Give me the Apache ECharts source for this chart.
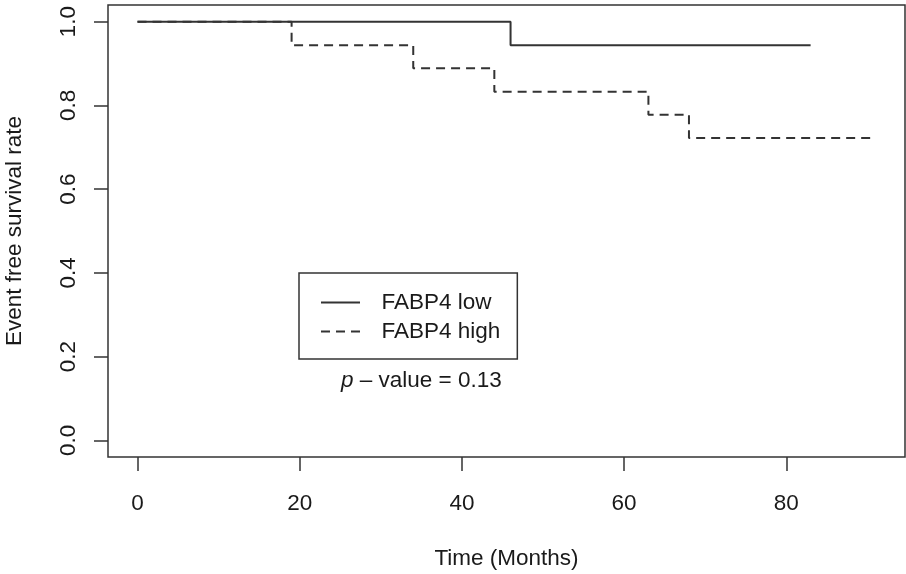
<!DOCTYPE html>
<html>
<head>
<meta charset="utf-8">
<script src="https://cdn.jsdelivr.net/npm/echarts@6/dist/echarts.min.js"></script>
<style>
  html, body { margin: 0; padding: 0; background: #fff; }
  #chart { width: 906px; height: 574px; }
</style>
</head>
<body>
<div id="chart"></div>
<script>
// Kaplan-Meier event-free survival by FABP4 expression group
const lowTimes = [0, 46, 83];
const lowSurv = [1.0, 0.944, 0.944];
const highTimes = [0, 19, 34, 44, 63, 68, 91];
const highSurv = [1.0, 0.944, 0.889, 0.833, 0.778, 0.722, 0.722];

const seriesNames = ['FABP4 low', 'FABP4 high'];
const xTicks = [0, 20, 40, 60, 80];
const yTicks = [0, 0.2, 0.4, 0.6, 0.8, 1.0];
const xTitle = 'Time (Months)';
const yTitle = 'Event free survival rate';
const pValue = '0.13';

const FONT = '"Liberation Sans", Arial, Helvetica, sans-serif';
const FS = 22.5;
const INK = '#1a1a1a';
const LINE = '#333333';

// legend keys: a plain stroke and a three-dash stroke
const SOLID_KEY = 'path://M0,0h39v2h-39z';
const DASH_KEY = 'path://M0,0h9v2h-9zM15,0h9v2h-9zM30,0h9v2h-9z';

function pairs(xs, ys) { return xs.map((x, i) => [x, ys[i]]); }

const chart = echarts.init(document.getElementById('chart'), null, { renderer: 'canvas' });

chart.setOption({
  animation: false,
  backgroundColor: '#ffffff',
  textStyle: { fontFamily: FONT },
  grid: {
    left: 108, right: 1, top: 5, bottom: 117,
    outerBoundsMode: 'none',
    containLabel: false,
    show: true, borderColor: LINE, borderWidth: 1.5, backgroundColor: 'transparent'
  },
  xAxis: {
    type: 'value',
    min: -3.64, max: 94.64,
    name: xTitle,
    nameLocation: 'middle',
    nameGap: 90,
    nameTextStyle: { fontSize: FS, color: INK, fontFamily: FONT },
    axisLine: { show: false, onZero: false },
    splitLine: { show: false },
    axisTick: { show: true, inside: false, length: 14, customValues: xTicks, lineStyle: { color: LINE, width: 1.5 } },
    axisLabel: { customValues: xTicks, margin: 35, fontSize: FS, color: INK, fontFamily: FONT }
  },
  yAxis: {
    type: 'value',
    min: -0.04, max: 1.04,
    name: yTitle,
    nameLocation: 'middle',
    nameRotate: 90,
    nameGap: 82,
    nameTextStyle: { fontSize: FS, color: INK, fontFamily: FONT },
    axisLine: { show: false, onZero: false },
    splitLine: { show: false },
    axisTick: { show: true, inside: false, length: 14, customValues: yTicks, lineStyle: { color: LINE, width: 1.5 } },
    axisLabel: {
      customValues: yTicks, rotate: 90, margin: 28, fontSize: FS, color: INK, fontFamily: FONT,
      formatter: v => v.toFixed(1)
    }
  },
  legend: {
    orient: 'vertical',
    left: 299, top: 273,
    padding: [17, 17, 15, 22],
    borderColor: LINE, borderWidth: 1.5,
    itemWidth: 42, itemHeight: 2, itemGap: 4,
    data: [
      { name: seriesNames[0], icon: SOLID_KEY },
      { name: seriesNames[1], icon: DASH_KEY }
    ],
    textStyle: { fontSize: FS, color: INK, fontFamily: FONT, lineHeight: 25, padding: [0, 0, 0, 15] }
  },
  graphic: [{
    type: 'text',
    left: 341, top: 369,
    style: {
      text: '{i|p} \u2013 value = ' + pValue,
      font: FS + 'px ' + FONT,
      fill: INK,
      rich: { i: { fontStyle: 'italic', fontSize: FS, fontFamily: FONT, fill: INK } }
    }
  }],
  series: [
    {
      name: seriesNames[1],
      type: 'line',
      step: 'end',
      symbol: 'none',
      data: pairs(highTimes, highSurv),
      lineStyle: { color: LINE, width: 2, type: [9, 6] },
      itemStyle: { color: LINE }
    },
    {
      name: seriesNames[0],
      type: 'line',
      step: 'end',
      symbol: 'none',
      data: pairs(lowTimes, lowSurv),
      lineStyle: { color: LINE, width: 2, type: 'solid' },
      itemStyle: { color: LINE }
    }
  ]
});
</script>
</body>
</html>
